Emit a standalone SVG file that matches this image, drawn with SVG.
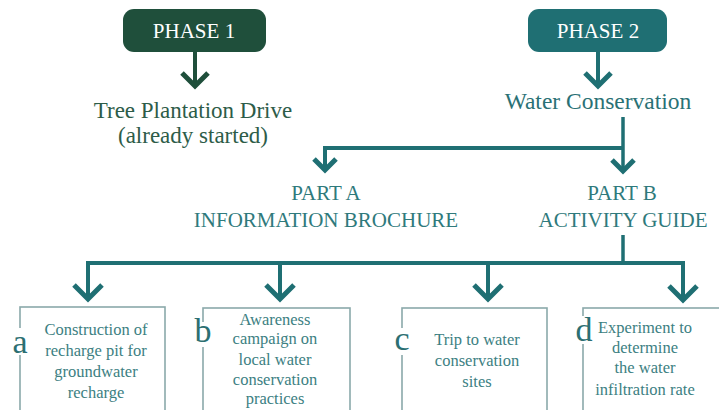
<svg xmlns="http://www.w3.org/2000/svg" width="719" height="410" viewBox="0 0 719 410">
<style>
.phase{font-family:"Liberation Serif","DejaVu Serif",serif;font-size:21px;fill:#ffffff;text-anchor:middle}
.head{font-family:"Liberation Serif","DejaVu Serif",serif;font-size:23px;text-anchor:middle}
.part{font-family:"Liberation Serif","DejaVu Serif",serif;font-size:21px;fill:#2f7a7c;text-anchor:middle}
.btxt{font-family:"Liberation Serif","DejaVu Serif",serif;font-size:16.5px;fill:#3c8082;text-anchor:middle}
.letter{font-family:"Liberation Serif","DejaVu Serif",serif;font-size:34px;fill:#2c6f72;text-anchor:middle}
.box{fill:#ffffff;stroke:#8aa9aa;stroke-width:1.6}
.gap{fill:#ffffff}
.ln{fill:none;stroke:#1f6f73;stroke-width:4;stroke-linejoin:miter}
.chev{fill:none;stroke:#1f6f73;stroke-width:5;stroke-linejoin:miter}
.g1{stroke:#1f4f3b}
</style>
<rect width="719" height="410" fill="#ffffff"/>
<g id="connectors">
  <path class="ln g1" d="M195,52 V85"/>
  <path class="chev g1" d="M182,73 L195,86 L208,73"/>
  <path class="ln" d="M598,52 V85"/>
  <path class="chev" d="M585,73 L598,86 L611,73"/>
  <path class="ln" style="stroke-width:3.5" d="M623,117 V171"/>
  <path class="ln" d="M623,148 H325 V170"/>
  <path class="chev" d="M314,159 L325,170 L336,159"/>
  <path class="chev" d="M612,160 L623,171 L634,160"/>
  <path class="ln" style="stroke-width:3.5" d="M623,235 V263"/>
  <path class="ln" d="M88,298 V263 H683 V298"/>
  <path class="ln" d="M280,263 V298"/>
  <path class="ln" d="M488,263 V298"/>
  <path class="chev" d="M74,285 L88,299 L102,285"/>
  <path class="chev" d="M266,285 L280,299 L294,285"/>
  <path class="chev" d="M474,285 L488,299 L502,285"/>
  <path class="chev" d="M669,286 L683,300 L697,286"/>
</g>
<g id="phase1">
  <rect x="123" y="9" width="143" height="43" rx="11" fill="#1f4f3b"/>
  <text class="phase" x="194" y="38">PHASE 1</text>
</g>
<g id="phase2">
  <rect x="528" y="9" width="139" height="43" rx="11" fill="#1f6f73"/>
  <text class="phase" x="598" y="38">PHASE 2</text>
</g>
<g id="tree">
  <text class="head" x="193" y="118" fill="#2d5c48">Tree Plantation Drive</text>
  <text class="head" x="193" y="143" fill="#2d5c48">(already started)</text>
</g>
<g id="water">
  <text class="head" x="598" y="109" fill="#2a7175" style="font-size:23.5px">Water Conservation</text>
</g>
<g id="partA">
  <text class="part" x="326" y="200">PART A</text>
  <text class="part" x="326" y="227">INFORMATION BROCHURE</text>
</g>
<g id="partB">
  <text class="part" x="622" y="200">PART B</text>
  <text class="part" x="623" y="227">ACTIVITY GUIDE</text>
</g>
<g id="boxA">
  <rect class="box" x="20" y="307" width="145" height="120"/>
  <rect class="gap" x="8" y="328" width="24" height="27"/>
  <text class="letter" x="20" y="353">a</text>
  <text class="btxt" x="96" y="335">Construction of</text>
  <text class="btxt" x="96" y="356">recharge pit for</text>
  <text class="btxt" x="96" y="377">groundwater</text>
  <text class="btxt" x="96" y="398">recharge</text>
</g>
<g id="boxB">
  <rect class="box" x="203" y="308" width="147" height="120"/>
  <rect class="gap" x="191" y="322" width="24" height="25"/>
  <text class="letter" x="203" y="342">b</text>
  <text class="btxt" x="275" y="325">Awareness</text>
  <text class="btxt" x="275" y="344">campaign on</text>
  <text class="btxt" x="275" y="365">local water</text>
  <text class="btxt" x="275" y="385">conservation</text>
  <text class="btxt" x="275" y="404">practices</text>
</g>
<g id="boxC">
  <rect class="box" x="402" y="308" width="145" height="120"/>
  <rect class="gap" x="390" y="328" width="24" height="27"/>
  <text class="letter" x="402" y="350">c</text>
  <text class="btxt" x="477" y="345">Trip to water</text>
  <text class="btxt" x="477" y="366">conservation</text>
  <text class="btxt" x="477" y="387">sites</text>
</g>
<g id="boxD">
  <rect class="box" x="583" y="308" width="145" height="120"/>
  <rect class="gap" x="571" y="316" width="24" height="28"/>
  <text class="letter" x="584" y="341">d</text>
  <text class="btxt" x="645" y="333">Experiment to</text>
  <text class="btxt" x="645" y="353">determine</text>
  <text class="btxt" x="645" y="373">the water</text>
  <text class="btxt" x="645" y="395">infiltration rate</text>
</g>
</svg>
